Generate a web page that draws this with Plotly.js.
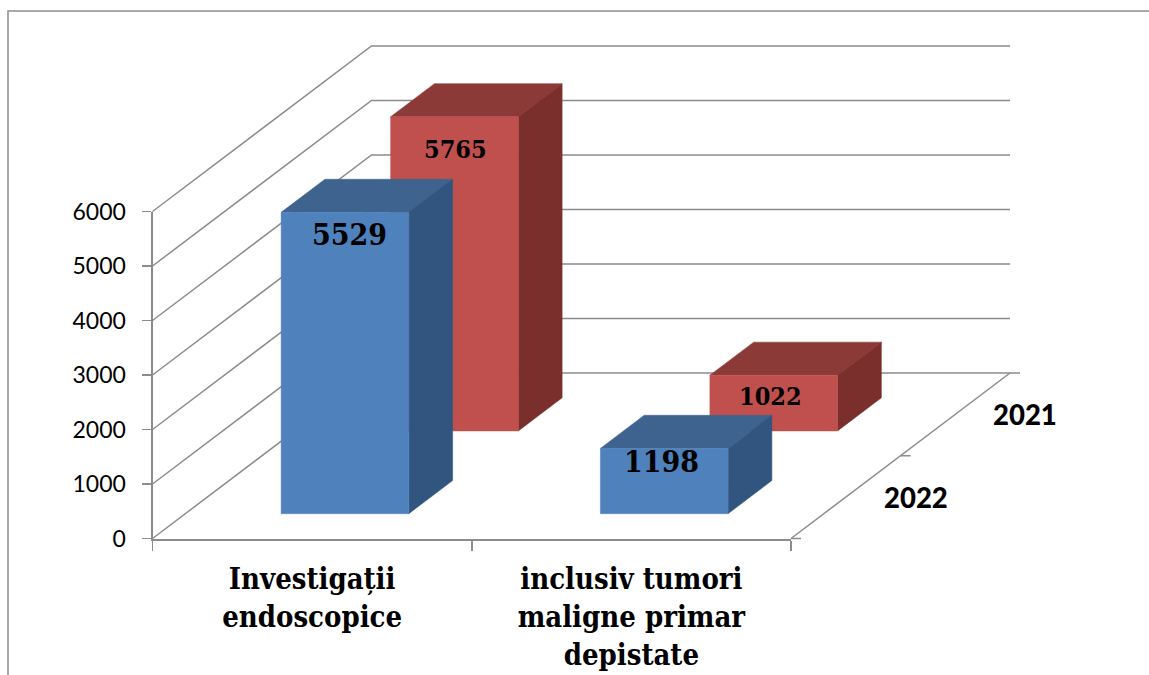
<!DOCTYPE html>
<html>
<head>
<meta charset="utf-8">
<script src="https://cdn.plot.ly/plotly-3.0.1.min.js"></script>
<style>html,body{margin:0;padding:0;background:#fff;overflow:hidden}</style>
</head>
<body>
<div id="chart" style="width:1149px;height:675px"></div>
<script>
// ---- data ----
var categories = ['Investigații<br>endoscopice', 'inclusiv tumori<br>maligne primar<br>depistate'];
var seriesNames = ['2022', '2021'];
var values2022 = [5529, 1198];
var values2021 = [5765, 1022];
var valueTicks = [0, 1000, 2000, 3000, 4000, 5000, 6000];

// ---- styles ----
var blueFaces = {front: '#4F81BD', top: '#3E638F', side: '#32557F'};
var redFaces = {front: '#C0504D', top: '#8C3A38', side: '#7A2F2D'};
var gridColor = '#8C8C8C';
var axisColor = '#8C8C8C';
var serif = '"DejaVu Serif Condensed", "DejaVu Serif", serif';
var sans = 'Lato, sans-serif';

// ---- oblique projection of the (category, depth, value) box ----
var W = 1149, H = 675;
var originX = 152.5, originY = 538.5;
var pxPerCategory = 319.25, pxPerKilo = 54.5;
var depthDx = 109.5, depthDy = 82.75;
var skewX = depthDx / pxPerCategory;
var skewY = depthDy / pxPerKilo * 1000;
function px(u, d) { return u + skewX * d; }
function py(d, v) { return v + skewY * d; }
var xRange = [-originX / pxPerCategory, (W - originX) / pxPerCategory];
var yRange = [(originY - H) / pxPerKilo * 1000, originY / pxPerKilo * 1000];

var barSize = 0.4;
var traces = [];

function poly(points, color) {
  traces.push({
    type: 'scatter', mode: 'lines', fill: 'toself', fillcolor: color,
    x: points.map(function (p) { return px(p[0], p[1]); }),
    y: points.map(function (p) { return py(p[1], p[2]); }),
    line: {color: color, width: 0.5}, hoverinfo: 'skip', showlegend: false
  });
}
function line(points, color, width) {
  traces.push({
    type: 'scatter', mode: 'lines',
    x: points.map(function (p) { return px(p[0], p[1]); }),
    y: points.map(function (p) { return py(p[1], p[2]); }),
    line: {color: color, width: width}, hoverinfo: 'skip', showlegend: false
  });
}
function bar(catIndex, depthIndex, value, faces) {
  var u0 = catIndex + 0.5 - barSize / 2, u1 = u0 + barSize;
  var d0 = depthIndex + 0.5 - barSize / 2, d1 = d0 + barSize;
  poly([[u0, d0, value], [u1, d0, value], [u1, d1, value], [u0, d1, value], [u0, d0, value]], faces.top);
  poly([[u1, d0, 0], [u1, d1, 0], [u1, d1, value], [u1, d0, value], [u1, d0, 0]], faces.side);
  poly([[u0, d0, 0], [u1, d0, 0], [u1, d0, value], [u0, d0, value], [u0, d0, 0]], faces.front);
}

// walls and floor
valueTicks.forEach(function (v) {
  line([[0, 0, v], [0, 2, v], [2, 2, v]], gridColor, 1.5);
});
line([[2, 0, 0], [2, 2, 0]], gridColor, 1.5);

// bars, back to front
bar(0, 1, values2021[0], redFaces);
bar(0, 0, values2022[0], blueFaces);
bar(1, 1, values2021[1], redFaces);
bar(1, 0, values2022[1], blueFaces);

// depth axis tick marks
var depthTickLen = 10 / pxPerCategory;
[0, 1, 2].forEach(function (d) {
  traces.push({
    type: 'scatter', mode: 'lines',
    x: [px(2, d), px(2, d) + depthTickLen], y: [py(d, 0), py(d, 0)],
    line: {color: axisColor, width: 1.5}, hoverinfo: 'skip', showlegend: false
  });
});

// carrier trace for the real value and category axes
traces.push({
  type: 'scatter', mode: 'markers', xaxis: 'x2', yaxis: 'y2',
  x: categories, y: [values2022[0], values2022[1]],
  marker: {opacity: 0, size: 1}, hoverinfo: 'skip', showlegend: false
});

// value labels on the front faces
function valueLabel(catIndex, depthIndex, value, size, dx, dy) {
  return {
    xref: 'x', yref: 'y', showarrow: false,
    x: px(catIndex + 0.5, depthIndex + 0.5 - barSize / 2),
    y: py(depthIndex + 0.5 - barSize / 2, value),
    text: '<b>' + value + '</b>',
    font: {family: serif, size: size, color: '#000'},
    xshift: dx, yshift: dy, xanchor: 'center', yanchor: 'middle'
  };
}
var annotations = [
  valueLabel(0, 1, values2021[0], 25, 1.5, -33),
  valueLabel(0, 0, values2022[0], 30, 4.5, -22.5),
  valueLabel(1, 1, values2021[1], 25, -3.5, -21),
  valueLabel(1, 0, values2022[1], 30, -3, -13)
];
// depth axis labels
var depthLabelGap = 70 / pxPerCategory;
seriesNames.forEach(function (name, i) {
  annotations.push({
    xref: 'x', yref: 'y', showarrow: false,
    x: px(2, i + 0.5) + depthLabelGap, y: py(i + 0.5, 0),
    text: name,
    font: {family: sans, size: 27.5, color: '#000', weight: 900},
    xanchor: 'center', yanchor: 'middle'
  });
});

var layout = {
  width: W, height: H,
  margin: {l: 0, r: 0, t: 0, b: 0, pad: 0},
  paper_bgcolor: '#fff', plot_bgcolor: 'rgba(0,0,0,0)',
  showlegend: false,
  xaxis: {visible: false, range: xRange, domain: [0, 1], fixedrange: true, autorange: false},
  yaxis: {visible: false, range: yRange, domain: [0, 1], fixedrange: true, autorange: false},
  xaxis2: {
    anchor: 'y2', type: 'category', domain: [originX / W, (originX + 2 * pxPerCategory) / W],
    range: [-0.5, 1.5], tickson: 'boundaries', ticks: 'outside', ticklen: 10, tickwidth: 1.5,
    tickcolor: axisColor, showline: true, linecolor: axisColor, linewidth: 2, showgrid: false, zeroline: false,
    tickangle: 0, ticklabelstandoff: 14, automargin: false,
    tickfont: {family: serif, size: 29, color: '#000', weight: 700}, fixedrange: true
  },
  yaxis2: {
    anchor: 'x2', domain: [(H - originY) / H, (H - originY + 6 * pxPerKilo) / H],
    range: [0, 6000], tickmode: 'array', tickvals: valueTicks, ticktext: valueTicks.map(String),
    ticks: 'outside', ticklen: 9, tickwidth: 1.5, tickcolor: axisColor,
    showline: true, linecolor: axisColor, linewidth: 2, showgrid: false, zeroline: false,
    ticklabelstandoff: 11, automargin: false,
    tickfont: {family: sans, size: 23, color: '#000'}, fixedrange: true
  },
  annotations: annotations,
  shapes: [{
    type: 'path', xref: 'paper', yref: 'paper', layer: 'below',
    path: 'M ' + (8 / W) + ' 0 L ' + (8 / W) + ' ' + (1 - 11 / H) + ' L 1 ' + (1 - 11 / H),
    line: {color: axisColor, width: 1.5}
  }]
};
Plotly.newPlot('chart', traces, layout, {staticPlot: true, displayModeBar: false});
</script>
</body>
</html>
